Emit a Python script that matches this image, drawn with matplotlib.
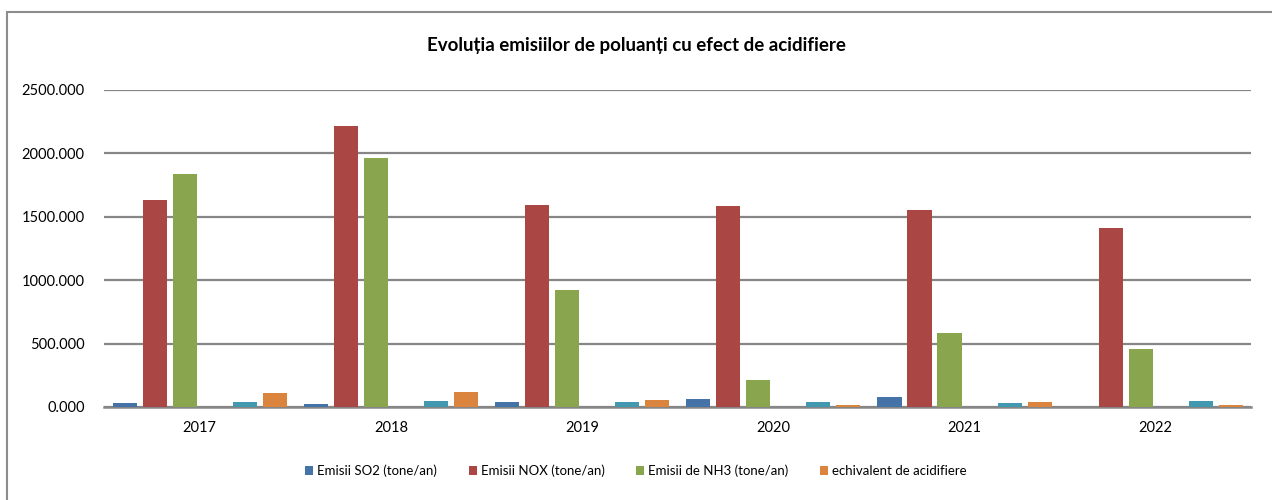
import numpy as np
import matplotlib.pyplot as plt
from matplotlib.patches import Rectangle

years = ['2017', '2018', '2019', '2020', '2021', '2022']
so2 = [29, 25, 38, 62, 80, 0]
nox = [1632, 2218, 1590, 1585, 1555, 1410]
nh3 = [1838, 1965, 920, 215, 580, 455]
serie4 = [0, 0, 0, 0, 0, 0]
serie5 = [37, 50, 38, 37, 35, 47]
echivalent = [110, 118, 55, 14, 37, 12]

series = [
    ('Emisii SO2 (tone/an)', so2, '#4572A7'),
    ('Emisii NOX (tone/an)', nox, '#AA4643'),
    ('Emisii de NH3 (tone/an)', nh3, '#89A54E'),
    ('_serie4', serie4, '#71588F'),
    ('_serie5', serie5, '#4198AF'),
    ('echivalent de acidifiere', echivalent, '#DB843D'),
]

plt.rcParams['font.family'] = ['Lato', 'DejaVu Sans']

fig = plt.figure(figsize=(12.72, 5.0), dpi=100)
ax = fig.add_axes([0.0818, 0.186, 0.902, 0.634])

x = np.arange(len(years))
step = 0.157
width = 0.126
for i, (label, vals, color) in enumerate(series):
    ax.bar(x + (i - 2.5) * step, vals, width, color=color, label=label,
           linewidth=0, zorder=3)

ax.set_xlim(-0.5, len(years) - 0.5)
ax.set_ylim(0, 2500)
ax.set_yticks(np.arange(0, 2501, 500))
ax.set_yticklabels([f'{v:.3f}' for v in np.arange(0, 2501, 500)], fontsize=10.5)
ax.set_xticks(x)
ax.set_xticklabels(years, fontsize=10.5)
ax.tick_params(axis='both', length=0, pad=10)
ax.tick_params(axis='y', pad=14)
ax.grid(axis='y', color='#868686', linewidth=1.6, zorder=0)
for s in ['top', 'right', 'left']:
    ax.spines[s].set_visible(False)
ax.spines['bottom'].set_color('#868686')
ax.spines['bottom'].set_linewidth(1.8)

fig.suptitle('Evoluția emisiilor de poluanți cu efect de acidifiere',
             y=0.925, fontsize=13.5, fontweight='bold')

handles, labels = ax.get_legend_handles_labels()
fig.legend(handles, labels, loc='center', bbox_to_anchor=(0.5, 0.058), ncol=4,
           frameon=False, fontsize=9.5, handlelength=0.6, handleheight=0.6,
           handletextpad=0.3, columnspacing=2.4)

# chart border (left and top visible)
fig.patches.append(Rectangle((7 / 1272, -0.1), 1.2, 1.1 - 12 / 500,
                             transform=fig.transFigure, fill=False,
                             edgecolor='#8c8c8c', linewidth=1.5))

plt.savefig('out.png')
